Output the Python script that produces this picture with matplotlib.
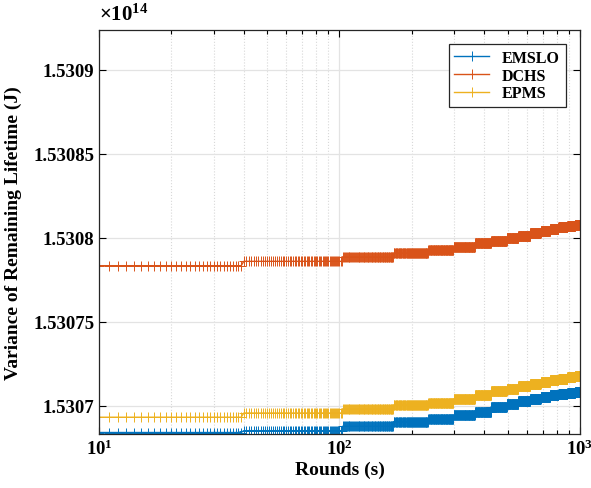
# plot.py
# Varianza de la vida restante frente a rondas (EMSLO / DCHS / EPMS)
import numpy as np
import matplotlib
matplotlib.use("Agg")
import matplotlib.pyplot as plt
from matplotlib.ticker import FixedLocator, FixedFormatter, FuncFormatter, LogLocator, NullFormatter

plt.rcParams['font.family'] = ['Liberation Serif', 'DejaVu Serif']
plt.rcParams['font.weight'] = 'bold'
plt.rcParams['mathtext.fontset'] = 'custom'
plt.rcParams['mathtext.rm'] = 'Liberation Serif:bold'
plt.rcParams['mathtext.bf'] = 'Liberation Serif:bold'

# 1) Datos (valores en unidades de 1e14 J)
rounds = np.arange(10, 1001)
step_starts = [10, 40, 103, 168, 234, 298, 366, 427, 496, 553, 620, 687, 750, 813, 886, 953]
emslo_levels = [1.5306842, 1.5306853, 1.5306879, 1.5306907, 1.5306924, 1.5306945, 1.5306967,
                1.5306995, 1.5307012, 1.5307028, 1.5307042, 1.5307054, 1.5307064, 1.5307070,
                1.5307079, 1.5307083]
dchs_levels = [1.5307835, 1.5307861, 1.5307887, 1.5307910, 1.5307926, 1.5307946, 1.5307970,
               1.5307982, 1.5308000, 1.5308012, 1.5308030, 1.5308042, 1.5308054, 1.5308063,
               1.5308071, 1.5308077]
epms_levels = [1.5306933, 1.5306958, 1.5306982, 1.5307006, 1.5307020, 1.5307042, 1.5307065,
               1.5307089, 1.5307101, 1.5307116, 1.5307131, 1.5307141, 1.5307155, 1.5307161,
               1.5307171, 1.5307179]

yticks = [1.5307, 1.53075, 1.5308, 1.53085, 1.5309]
ytick_labels = ["1.5307", "1.53075", "1.5308", "1.53085", "1.5309"]

idx = np.searchsorted(step_starts, rounds, side='right') - 1
series = [
    ("EMSLO", np.array(emslo_levels)[idx], "#0072BD"),
    ("DCHS", np.array(dchs_levels)[idx], "#D95319"),
    ("EPMS", np.array(epms_levels)[idx], "#EDB120"),
]

# 2) Figura
fig = plt.figure(figsize=(5.91, 4.89), dpi=100)
ax = fig.add_axes([0.1675, 0.1104, 0.8139, 0.8262])

for name, vals, color in series:
    ax.plot(rounds, vals, '-+', color=color, label=name, lw=1.0, ms=7, mew=0.7)

ax.set_xscale('log')
ax.set_xlim(10, 1000)
ax.set_ylim(1.5306833, 1.5309238)

ax.xaxis.set_major_locator(FixedLocator([10, 100, 1000]))
ax.xaxis.set_major_formatter(FuncFormatter(lambda v, p: r'$\mathbf{10^{%d}}$' % round(np.log10(v))))
ax.xaxis.set_minor_locator(LogLocator(base=10, subs=np.arange(2, 10)))
ax.xaxis.set_minor_formatter(NullFormatter())
ax.yaxis.set_major_locator(FixedLocator(yticks))
ax.yaxis.set_major_formatter(FixedFormatter(ytick_labels))

ax.tick_params(which='both', direction='in', top=True, right=True, labelsize=13.5, width=0.8)
ax.tick_params(which='major', length=5)
ax.tick_params(which='minor', length=3)
ax.grid(which='major', color='#e3e3e3', lw=0.9)
ax.grid(which='minor', axis='x', color='#d8d8d8', ls=':', lw=0.8)
ax.set_axisbelow(True)
for s in ax.spines.values():
    s.set_linewidth(0.9)
    s.set_color('#262626')

ax.set_xlabel("Rounds (s)", fontsize=14, fontweight='bold', labelpad=2)
ax.set_ylabel("Variance of Remaining Lifetime (J)", fontsize=14, fontweight='bold', labelpad=8)
ax.text(0.0, 1.012, r'$\times\mathbf{10^{14}}$', transform=ax.transAxes, fontsize=15,
        ha='left', va='bottom')

leg = ax.legend(loc='upper right', fontsize=11.5, fancybox=False, edgecolor='#262626',
                framealpha=1, borderaxespad=0.9, handlelength=2.2, labelspacing=0.1,
                borderpad=0.35)
leg.get_frame().set_linewidth(0.9)

plt.savefig("out.png", dpi=100)
